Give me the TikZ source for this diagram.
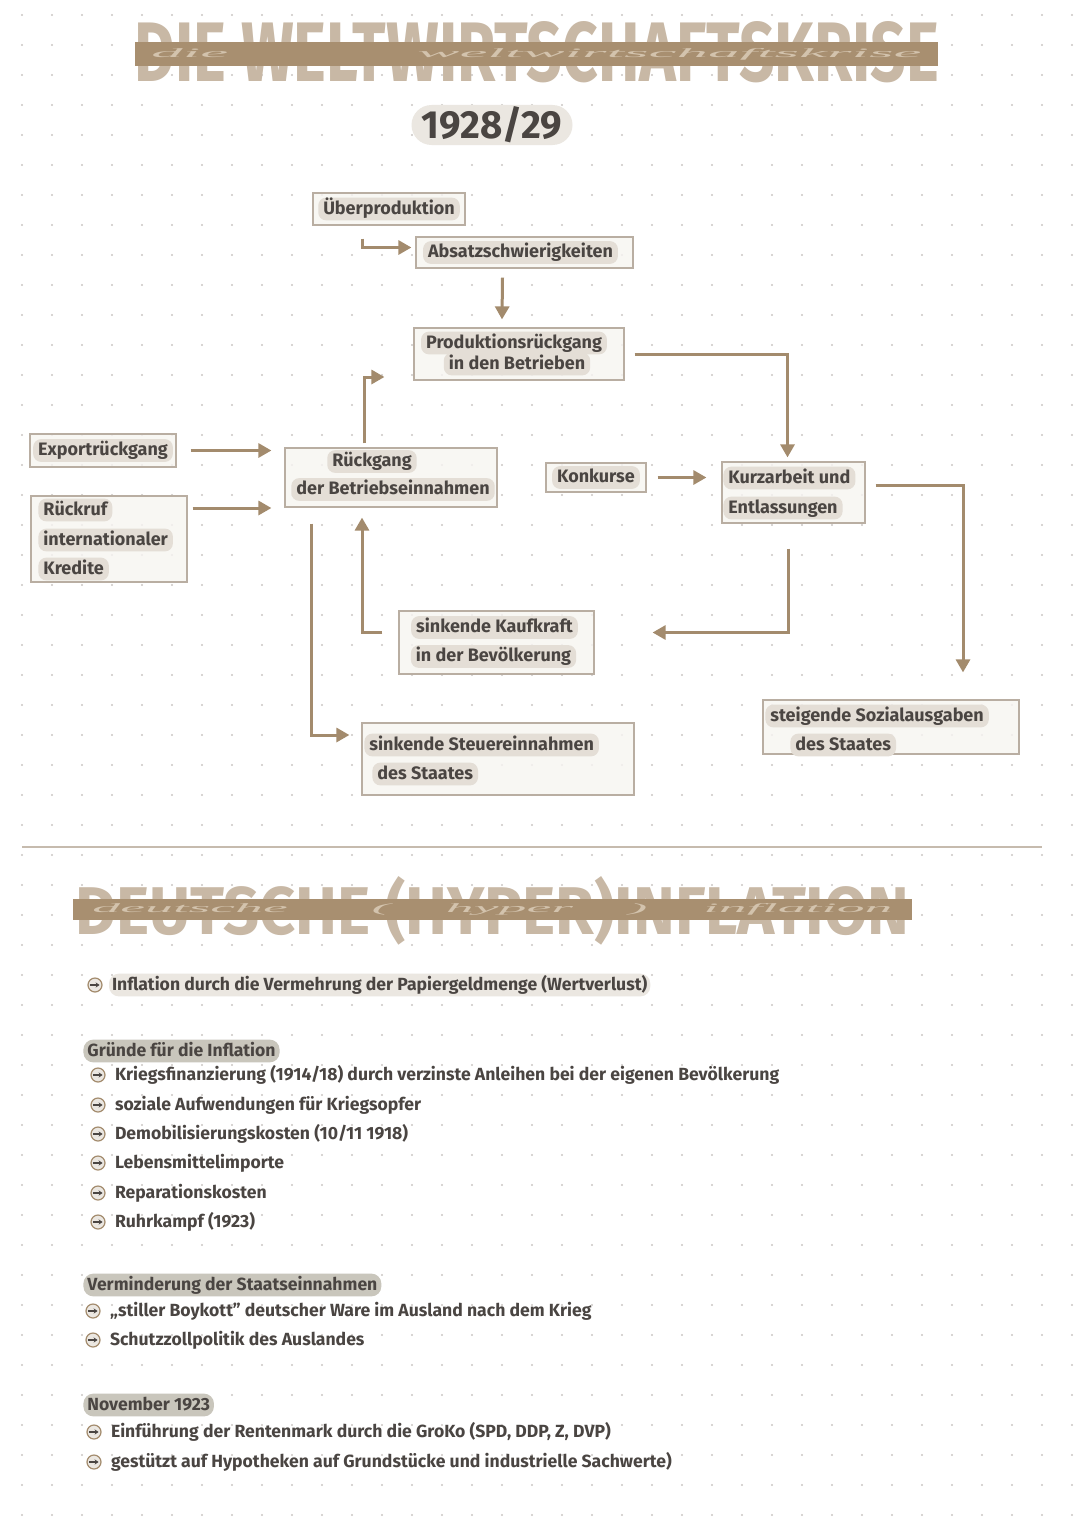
\documentclass[tikz,border=0pt]{standalone}
\usepackage{fontspec}
\usepackage{graphicx}
\setmainfont{Fira Sans}
\newfontfamily\bandfont{Liberation Serif}
\usetikzlibrary{arrows.meta,positioning,calc}
\definecolor{ink}{HTML}{4A4542}
\definecolor{arrowbrown}{HTML}{A38B6D}
\definecolor{boxline}{HTML}{B9AEA2}
\definecolor{boxfill}{HTML}{F7F5F1}
\definecolor{hlbeige}{HTML}{E4DED6}
\definecolor{hlgray}{HTML}{C9C6BC}
\definecolor{pillgray}{HTML}{EBE7E1}
\definecolor{titlelight}{HTML}{C8B8A5}
\definecolor{bandbrown}{HTML}{A88F70}
\definecolor{bandscript}{HTML}{D3C3AD}
\definecolor{dotgray}{HTML}{CBC7C3}
\definecolor{sepline}{HTML}{C6BBAE}
\tikzset{
  fbox/.style={draw=boxline,line width=0.6pt,fill=boxfill,fill opacity=0.8,inner sep=0pt},
  ftext/.style={fill=hlbeige,text=ink,rounded corners=4pt,inner xsep=2.5pt,inner ysep=1.2pt,
    text height=7pt,text depth=2pt,font=\bfseries\fontsize{9}{10}\selectfont},
  conn/.style={draw=arrowbrown,line width=1.5pt,-{Triangle[length=6.5pt,width=7pt]}},
  bigtitle/.style={inner sep=0pt,text=titlelight,font=\bfseries},
  band/.style={fill=bandbrown,inner sep=0pt,text=bandscript,font=\bandfont\itshape},
  bul/.style={circle,draw=arrowbrown,line width=0.6pt,fill=pillgray,minimum size=7pt,inner sep=0pt},
  bularrow/.style={draw=ink,line width=0.6pt,-{Stealth[length=2pt,width=2.6pt]}},
  listtext/.style={inner xsep=1.5pt,inner ysep=1.2pt,text=ink,text height=7pt,text depth=2pt,
    font=\bfseries\fontsize{8.8}{10}\selectfont},
  listhead/.style={listtext,fill=hlgray,rounded corners=5pt,inner xsep=2pt}
}
\begin{document}
\begin{tikzpicture}[x=0.5pt,y=-0.5pt]
  \useasboundingbox (0,0) rectangle (1080,1525);
  \fill[white] (0,0) rectangle (1080,1525);
  % dotted paper
  \foreach \gx in {22,52,...,1072}
    \foreach \gy in {15,45,...,1515}
      \fill[dotgray] (\gx,\gy) circle[radius=0.6pt];

  % title
  \node[bigtitle] (title1) at (537,52) {\resizebox{402pt}{30pt}{DIE WELTWIRTSCHAFTSKRISE}};
  \node[band,minimum width=401.5pt,minimum height=12pt] (band1) at (536.5,54)
    {\resizebox{385pt}{4.5pt}{die\hspace{3em}weltwirtschaftskrise}};
  \node[fill=pillgray,rounded corners=10pt,minimum width=80.5pt,minimum height=20pt,
    inner sep=0pt,text=ink,font=\bfseries] (year) at (492,125) {\resizebox{70pt}{16pt}{1928/29}};

  % boxes
  \node[fbox,minimum width=76pt,minimum height=16pt] (ueber) at (389,209) {};
  \node[fbox,minimum width=108.5pt,minimum height=15.5pt] (absatz) at (524.5,252.5) {};
  \node[fbox,minimum width=105pt,minimum height=26pt] (prod) at (519,354) {};
  \node[fbox,minimum width=73pt,minimum height=16.5pt] (export) at (103,450.5) {};
  \node[fbox,minimum width=78pt,minimum height=43pt] (rueckruf) at (109,539) {};
  \node[fbox,minimum width=106pt,minimum height=29.5pt] (rueckgang) at (391,477.5) {};
  \node[fbox,minimum width=50pt,minimum height=14.5pt] (konkurse) at (596,477.5) {};
  \node[fbox,minimum width=71.5pt,minimum height=30.5pt] (kurz) at (793.5,492.5) {};
  \node[fbox,minimum width=97.5pt,minimum height=31.5pt] (kauf) at (496.5,642.5) {};
  \node[fbox,minimum width=136pt,minimum height=36pt] (steuer) at (498,759) {};
  \node[fbox,minimum width=128pt,minimum height=27pt] (sozial) at (891,727) {};

  % box texts
  \node[ftext] (ueber-t) at (ueber) {Überproduktion};
  \node[ftext] (absatz-t) at ($(absatz)+(-4,0)$) {Absatzschwierigkeiten};
  \node[ftext] (prod-a) at ($(prod)+(-5,-11)$) {Produktionsrückgang};
  \node[ftext] (prod-b) at ($(prod)+(-2,10)$) {in den Betrieben};
  \node[ftext] (export-t) at (export) {Exportrückgang};
  \node[ftext,anchor=west] (rueckruf-a) at (38,510) {Rückruf};
  \node[ftext,anchor=west] (rueckruf-b) at (38,540) {internationaler};
  \node[ftext,anchor=west] (rueckruf-c) at (38,569) {Kredite};
  \node[ftext] (rueckgang-a) at ($(rueckgang)+(-19,-16)$) {Rückgang};
  \node[ftext] (rueckgang-b) at ($(rueckgang)+(2,12)$) {der Betriebseinnahmen};
  \node[ftext] (konkurse-t) at (konkurse) {Konkurse};
  \node[ftext,anchor=west] (kurz-a) at (723,478) {Kurzarbeit und};
  \node[ftext,anchor=west] (kurz-b) at (723,508) {Entlassungen};
  \node[ftext] (kauf-a) at ($(kauf)+(-2,-15)$) {sinkende Kaufkraft};
  \node[ftext] (kauf-b) at ($(kauf)+(-3,14)$) {in der Bevölkerung};
  \node[ftext,anchor=west] (steuer-a) at (364,745) {sinkende Steuereinnahmen};
  \node[ftext,anchor=west] (steuer-b) at (372,774) {des Staates};
  \node[ftext,anchor=west] (sozial-a) at (765,716) {steigende Sozialausgaben};
  \node[ftext,anchor=west] (sozial-b) at (790,745) {des Staates};

  % connectors
  \draw[conn] ($(ueber.south)+(-27,13)$) |- ($(absatz.west)+(-4,-5)$);
  \draw[conn] ($(absatz.south)+(-22,9)$) -- ($(prod.north)+(-17,-8)$);
  \draw[conn] ($(prod.east)+(10,0)$) -| ($(kurz.north)+(-6,-4)$);
  \draw[conn] ($(export.east)+(14,0)$) -- ($(export.east -| rueckgang.west)+(-13,0)$);
  \draw[conn] ($(rueckruf.east)+(5,-31)$) -- ($(rueckruf.east -| rueckgang.west)+(-13,-31)$);
  \draw[conn] ($(rueckgang.north)+(-27,-4)$) |- ($(prod.west)+(-29,23)$);
  \draw[conn] ($(konkurse.east)+(11,0)$) -- ($(kurz.west)+(-15,-15)$);
  \draw[conn] ($(kurz.east)+(10,-7)$) -| ($(sozial.north)+(72,-27)$);
  \draw[conn] ($(kurz.south)+(-5,25)$) |- ($(kauf.east)+(58,-10)$);
  \draw[conn] ($(kauf.west)+(-16,-10)$) -| ($(rueckgang.south)+(-29,10)$);
  \draw[conn] ($(rueckgang.south)+(-80,16)$) |- ($(steuer.west)+(-12,-24)$);

  \draw[sepline,line width=0.8pt] (22,847) -- (1042,847);

  % second part
  \node[bigtitle] (title2) at (492.5,911) {\resizebox{417pt}{29pt}{DEUTSCHE (HYPER)INFLATION}};
  \node[band,minimum width=419.5pt,minimum height=10.5pt] (band2) at (492.5,909.5)
    {\resizebox{400pt}{4.5pt}{deutsche\hspace{1.5em}(\hspace{1em}hyper\hspace{1em})\hspace{1em}inflation}};

  \node[bul] (bul0) at (95,985) {};
  \draw[bularrow] ($(bul0.west)+(3,0)$) -- ($(bul0.east)+(-3,0)$);
  \node[listtext,fill=pillgray,rounded corners=5pt,right=3pt of bul0] (intro)
    {Inflation durch die Vermehrung der Papiergeldmenge (Wertverlust)};

  \node[listhead,anchor=west] (gruende) at (83,1051) {Gründe für die Inflation};
  \node[listhead,anchor=west] (vermind) at (83,1285) {Verminderung der Staatseinnahmen};
  \node[listhead,anchor=west] (nov) at (83,1405) {November 1923};

  \foreach[count=\k] \bx/\yy/\txt in {
      98/1075/{Kriegsfinanzierung (1914/18) durch verzinste Anleihen bei der eigenen Bevölkerung},
      98/1105/{soziale Aufwendungen für Kriegsopfer},
      98/1134/{Demobilisierungskosten (10/11 1918)},
      98/1163/{Lebensmittelimporte},
      98/1193/{Reparationskosten},
      98/1222/{Ruhrkampf (1923)},
      93/1311/{„stiller Boykott” deutscher Ware im Ausland nach dem Krieg},
      93/1340/{Schutzzollpolitik des Auslandes},
      94/1432/{Einführung der Rentenmark durch die GroKo (SPD, DDP, Z, DVP)},
      94/1462/{gestützt auf Hypotheken auf Grundstücke und industrielle Sachwerte)}}{
    \node[bul] (bul\k) at (\bx,\yy) {};
    \draw[bularrow] ($(bul\k.west)+(3,0)$) -- ($(bul\k.east)+(-3,0)$);
    \node[listtext,right=3pt of bul\k] (item\k) {\txt};
  }
\end{tikzpicture}
\end{document}
